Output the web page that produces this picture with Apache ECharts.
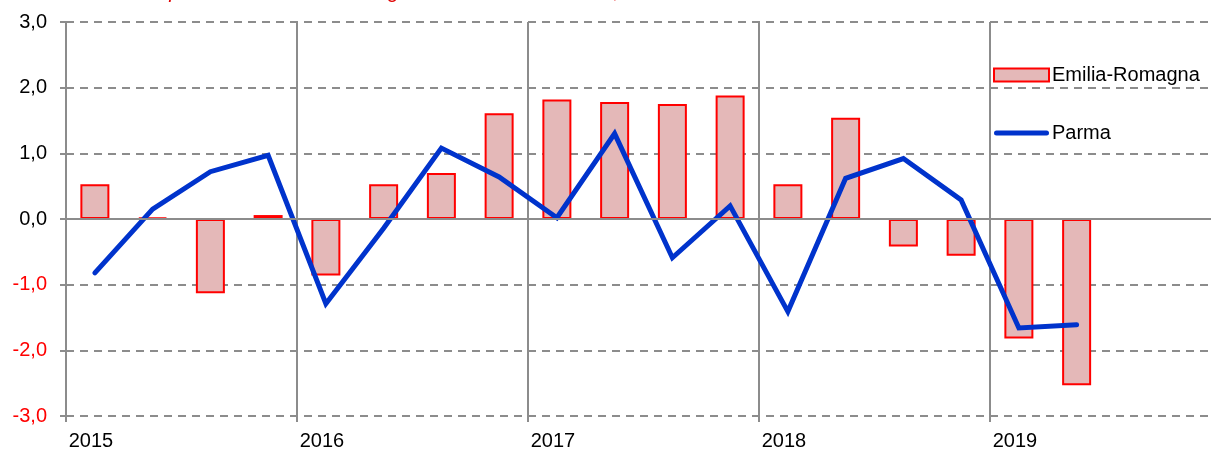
<!DOCTYPE html>
<html>
<head>
<meta charset="utf-8">
<script src="https://cdn.jsdelivr.net/npm/echarts@6/dist/echarts.min.js"></script>
<style>
html,body{margin:0;padding:0;background:#fff;}
#chart{width:1211px;height:453px;}
</style>
</head>
<body>
<div id="chart"></div>
<script>
// Quarters 2015Q1 .. 2019Q4
const categories = [
  '2015-T1','2015-T2','2015-T3','2015-T4',
  '2016-T1','2016-T2','2016-T3','2016-T4',
  '2017-T1','2017-T2','2017-T3','2017-T4',
  '2018-T1','2018-T2','2018-T3','2018-T4',
  '2019-T1','2019-T2','2019-T3','2019-T4'
];
const yearLabels = ['2015','2016','2017','2018','2019'];
const emiliaRomagna = [0.53, 0.02, -1.13, 0.06, -0.86, 0.53, 0.70, 1.61, 1.82, 1.78, 1.75, 1.88, 0.53, 1.54, -0.42, -0.56, -1.82, -2.53, null, null];
const parma = [-0.82, 0.15, 0.72, 0.97, -1.29, -0.14, 1.08, 0.64, 0.02, 1.30, -0.59, 0.20, -1.41, 0.62, 0.92, 0.29, -1.66, -1.61, null, null];
const titleText = 'Variazione della produzione Emilia-Romagna e della città di Parma, tassi di variazione tendenziali annui';

const chart = echarts.init(document.getElementById('chart'), null, {renderer: 'canvas'});
const grey = '#8c8c8c';
const fontFam = '"Liberation Sans", Arial, sans-serif';
const yearIdx = (i) => i % 4 === 0;

chart.setOption({
  backgroundColor: '#ffffff',
  animation: false,
  graphic: [{
    type: 'text',
    left: 22,
    top: -18,
    style: {
      text: titleText,
      fill: '#e00000',
      font: 'italic 20px ' + fontFam
    }
  }],
  legend: {
    orient: 'vertical',
    left: 988,
    top: 60,
    itemWidth: 55,
    itemHeight: 13,
    itemGap: 38,
    textStyle: {fontFamily: fontFam, fontSize: 20, color: '#000', padding: [0, 0, 0, -2]},
    data: [
      {name: 'Emilia-Romagna', icon: 'rect'},
      {name: 'Parma', icon: 'path://M2.5,0 L52.5,0 A2.5,2.5 0 0 1 52.5,5 L2.5,5 A2.5,2.5 0 0 1 2.5,0 Z', itemStyle: {color: '#0033cc', borderWidth: 0}}
    ]
  },
  grid: {left: 66, top: 22, height: 394, width: 1155, containLabel: false, outerBoundsMode: 'none'},
  xAxis: {
    type: 'category',
    data: categories,
    boundaryGap: true,
    axisLine: {show: false, onZero: false},
    axisTick: {show: true, interval: (i) => yearIdx(i), length: 6, lineStyle: {color: grey, width: 2}},
    axisLabel: {
      interval: 0,
      margin: 15,
      fontFamily: fontFam,
      fontSize: 20,
      color: '#000',
      padding: [0, 8, 0, 0],
      formatter: (v, i) => yearIdx(i) ? yearLabels[i / 4] : ''
    },
    splitLine: {show: true, interval: (i) => yearIdx(i), lineStyle: {color: grey, width: 2, type: 'solid'}}
  },
  yAxis: {
    type: 'value',
    min: -3,
    max: 3,
    interval: 1,
    axisLine: {show: true, lineStyle: {color: grey, width: 2}},
    axisTick: {show: true, length: 6, lineStyle: {color: grey, width: 2}},
    axisLabel: {
      margin: 19,
      fontFamily: fontFam,
      fontSize: 20,
      color: (v) => Number(v) < 0 ? '#ff0000' : '#000000',
      formatter: (v) => v.toFixed(1).replace('.', ',')
    },
    splitLine: {show: true, lineStyle: {color: grey, width: 2, type: [8, 6]}}
  },
  series: [
    {
      name: 'Emilia-Romagna',
      type: 'bar',
      data: emiliaRomagna,
      barWidth: 29,
      itemStyle: {color: '#e4b8b8', borderColor: '#ff0000', borderWidth: 2},
      markLine: {
        silent: true,
        symbol: 'none',
        label: {show: false},
        lineStyle: {color: grey, width: 2, type: 'solid'},
        data: [{yAxis: 0}]
      },
      z: 2
    },
    {
      name: 'Parma',
      type: 'line',
      data: parma,
      symbol: 'none',
      showSymbol: false,
      lineStyle: {color: '#0033cc', width: 5, cap: 'round', join: 'miter'},
      itemStyle: {color: '#0033cc'},
      z: 3
    }
  ]
});
</script>
</body>
</html>
